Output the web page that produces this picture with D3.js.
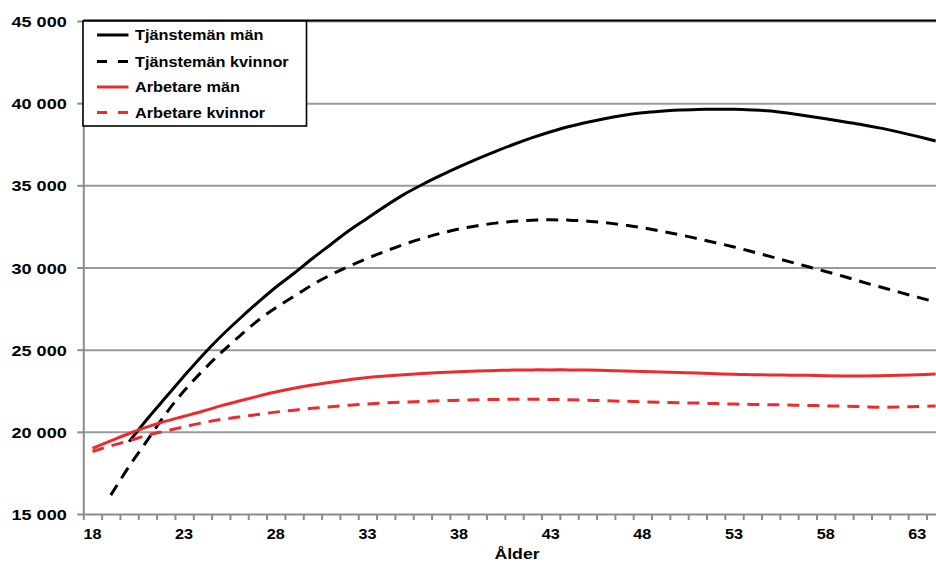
<!DOCTYPE html>
<html>
<head>
<meta charset="utf-8">
<script src="https://cdn.jsdelivr.net/npm/d3@7/dist/d3.min.js"></script>
<style>
  html, body { margin: 0; padding: 0; background: #fff; overflow: hidden; }
  svg { display: block; font-family: "Liberation Sans", Arial, sans-serif; font-weight: bold; }
</style>
</head>
<body>
<svg id="chart" width="936" height="563"></svg>
<script>
// ---- Data ----
const ages = d3.range(18, 65); // 18..64
const xTickLabels = [18, 23, 28, 33, 38, 43, 48, 53, 58, 63];
const yTickValues = [15000, 20000, 25000, 30000, 35000, 40000, 45000];
const seriesNames = ["Tjänstemän män", "Tjänstemän kvinnor", "Arbetare män", "Arbetare kvinnor"];

const tjanstemanMan = [null, null, 19400, 20800, 22100, 23400, 24650, 25800, 26850, 27850,
  28800, 29650, 30550, 31400, 32250, 33000, 33750, 34450, 35050, 35600,
  36120, 36610, 37070, 37500, 37900, 38260, 38580, 38840, 39070, 39260,
  39410, 39510, 39580, 39615, 39630, 39630, 39590, 39520, 39380, 39220,
  39050, 38870, 38690, 38480, 38240, 37980, 37700];
const tjanstemanKvinnor = [null, 16150, 17900, 19500, 21100, 22500, 23700, 24800, 25800, 26750,
  27550, 28250, 28950, 29550, 30080, 30560, 31000, 31410, 31770, 32080,
  32340, 32540, 32700, 32810, 32880, 32900, 32880, 32820, 32730, 32580,
  32420, 32220, 32000, 31760, 31510, 31250, 30960, 30660, 30360, 30060,
  29760, 29450, 29120, 28810, 28500, 28200, 27900];
const arbetareMan = [19000, 19450, 19900, 20300, 20650, 20950, 21250, 21580, 21880, 22160,
  22420, 22650, 22850, 23020, 23170, 23300, 23400, 23480, 23550, 23610,
  23660, 23700, 23730, 23760, 23770, 23770, 23770, 23760, 23730, 23700,
  23670, 23640, 23610, 23580, 23540, 23500, 23480, 23460, 23450, 23440,
  23410, 23400, 23400, 23410, 23440, 23480, 23520];
const arbetareKvinnor = [18800, 19150, 19450, 19800, 20050, 20300, 20550, 20750, 20900, 21050,
  21200, 21320, 21430, 21530, 21620, 21700, 21760, 21810, 21850, 21890,
  21920, 21950, 21970, 21980, 21980, 21970, 21950, 21920, 21890, 21860,
  21830, 21800, 21770, 21750, 21720, 21690, 21670, 21650, 21630, 21610,
  21580, 21560, 21530, 21500, 21510, 21540, 21570];

const seriesValues = [tjanstemanMan, tjanstemanKvinnor, arbetareMan, arbetareKvinnor];
const seriesColors = ["#000000", "#000000", "#EE2A2D", "#EE2A2D"];
const seriesDash = [null, "12,8", null, "12,8"];

// ---- Layout ----
const svg = d3.select("#chart");
const plotLeft = 83.3, plotTop = 21, plotBottom = 514;
const bandW = 18.33;
const plotRight = plotLeft + ages.length * bandW;
const stretch = 1.18;

const x = d3.scaleBand().domain(ages).range([plotLeft, plotRight]).paddingInner(0).paddingOuter(0);
const xEdge = d3.scaleLinear().domain([17.5, 64.5]).range([plotLeft, plotRight]);
const y = d3.scaleLinear().domain([15000, 45000]).range([plotBottom, plotTop]);
const cx = a => x(a) + x.bandwidth() / 2;

// gridlines
svg.append("g")
  .attr("transform", `translate(${plotLeft},0)`)
  .call(d3.axisLeft(y).tickValues(yTickValues.slice(1)).tickSize(-(936 - plotLeft)).tickFormat(""))
  .call(g => g.select(".domain").remove())
  .call(g => g.selectAll("line").attr("stroke", "#9a9a9a").attr("stroke-width", 2));

// top border
svg.append("line").attr("x1", plotLeft).attr("x2", 936).attr("y1", y(45000) - 0.5).attr("y2", y(45000) - 0.5)
  .attr("stroke", "#000").attr("stroke-width", 2.2);

// y axis
const fmt = d => d3.format(",")(d).replace(",", " ");
svg.append("g")
  .attr("transform", `translate(${plotLeft},0)`)
  .call(d3.axisLeft(y).tickValues(yTickValues).tickSize(6).tickSizeOuter(0).tickPadding(10).tickFormat(fmt))
  .call(g => g.select(".domain").attr("stroke", "#8c8c8c").attr("stroke-width", 2))
  .call(g => g.selectAll(".tick line").attr("stroke", "#8c8c8c").attr("stroke-width", 2))
  .call(g => g.selectAll("text")
    .attr("fill", "#000").attr("font-size", 15.3).attr("font-weight", "bold")
    .attr("font-family", "'Liberation Sans', Arial, sans-serif")
    .attr("x", -16.6 / stretch).attr("dy", "0.36em")
    .attr("transform", `scale(${stretch},1)`));

// x axis: tick marks between categories
svg.append("g")
  .attr("transform", `translate(0,${plotBottom})`)
  .call(d3.axisBottom(xEdge).tickValues(d3.range(17.5, 65, 1)).tickSize(6).tickSizeOuter(0).tickFormat(""))
  .call(g => g.select(".domain").attr("stroke", "#8c8c8c").attr("stroke-width", 2))
  .call(g => g.selectAll(".tick line").attr("stroke", "#8c8c8c").attr("stroke-width", 2));

// x axis labels
svg.append("g")
  .attr("transform", `translate(0,${plotBottom})`)
  .call(d3.axisBottom(x).tickValues(xTickLabels).tickSize(0).tickPadding(22))
  .call(g => g.select(".domain").remove())
  .call(g => g.selectAll("text")
    .attr("fill", "#000").attr("font-size", 14).attr("font-weight", "bold")
    .attr("font-family", "'Liberation Sans', Arial, sans-serif")
    .attr("dy", "0.2em")
    .attr("transform", `scale(${1.16},1)`));

// axis title
svg.append("text")
  .attr("transform", `translate(517,559) scale(${stretch},1)`)
  .attr("text-anchor", "middle")
  .attr("font-size", 15)
  .text("Ålder");

// lines
const line = d3.line()
  .defined(d => d.v != null)
  .x(d => cx(d.a))
  .y(d => y(d.v))
  .curve(d3.curveCatmullRom.alpha(0.5));

seriesValues.forEach((vals, i) => {
  const data = ages.map((a, j) => ({ a, v: vals[j] }));
  svg.append("path")
    .datum(data)
    .attr("d", line)
    .attr("fill", "none")
    .attr("stroke", seriesColors[i])
    .attr("stroke-width", 3)
    .attr("stroke-dasharray", seriesDash[i])
    .attr("stroke-linejoin", "round");
});

// legend
const lg = svg.append("g");
lg.append("rect")
  .attr("x", 83).attr("y", 21).attr("width", 223.5).attr("height", 105)
  .attr("fill", "#fff").attr("stroke", "#000").attr("stroke-width", 1.6);
const rowLineY = [35, 61.5, 87, 112.5];
seriesNames.forEach((name, i) => {
  lg.append("line")
    .attr("x1", 97).attr("x2", 128.5).attr("y1", rowLineY[i]).attr("y2", rowLineY[i])
    .attr("stroke", seriesColors[i]).attr("stroke-width", 3)
    .attr("stroke-dasharray", seriesDash[i] ? "10,11" : null);
  lg.append("text")
    .attr("transform", `translate(135,${rowLineY[i] + 5.3}) scale(${stretch},1)`)
    .attr("font-size", 13.8)
    .text(name);
});
</script>
</body>
</html>
